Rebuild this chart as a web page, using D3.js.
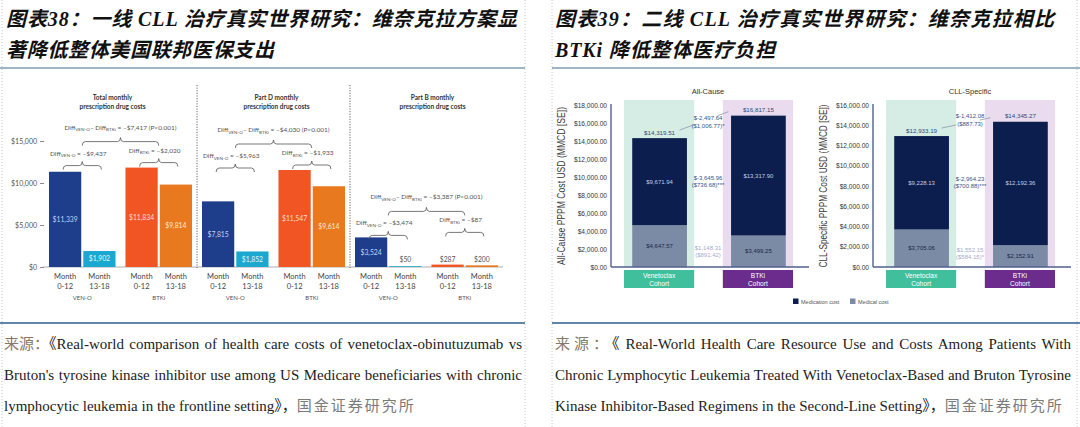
<!DOCTYPE html>
<html lang="zh">
<head>
<meta charset="utf-8">
<title>CLL real-world cost charts</title>
<script src="https://cdn.jsdelivr.net/npm/d3@7/dist/d3.min.js"></script>
<style>
  body { margin: 0; background: #fff; }
  svg { display: block; }
</style>
</head>
<body>
<div id="viz"></div>
<script>
// ---- figure 38: monthly Medicare drug costs, frontline CLL ----
var panelTitles = [["Total monthly", "prescription drug costs"], ["Part D monthly", "prescription drug costs"], ["Part B monthly", "prescription drug costs"]];
var cohorts = ["VEN-O", "BTKi"];
var periods = [["Month", "0-12"], ["Month", "13-18"]];
var venoCosts = [[11339, 1902], [7815, 1852], [3524, 50]];
var btkiCosts = [[11834, 9814], [11547, 9614], [287, 200]];
var venoDiffs = ["–$9,437", "–$5,963", "–$3,474"];
var btkiDiffs = ["–$2,020", "–$1,933", "–$87"];
var netDiffs = ["–$7,417", "–$4,030", "–$3,387"];
var costTicks = [0, 5000, 10000, 15000];

// ---- figure 39: PPPM costs, second-line CLL ----
var costTypes = ["All-Cause", "CLL-Specific"];
var cohortNames = [["Venetoclax", "Cohort"], ["BTKi", "Cohort"]];
var medicalCosts = [[4647.57, 3499.25], [3705.06, 2152.91]];
var medicationCosts = [[9671.94, 13317.90], [9228.13, 12192.36]];
var totalCosts = [[14319.51, 16817.15], [12933.19, 14345.27]];
var totalDiffs = [["$-2,497.64", "($1,006.77)*"], ["$-1,412.08", "($887.73)"]];
var medicationDiffs = [["$-3,645.96", "($736.68)***"], ["$-2,964.23", "($700.88)***"]];
var medicalDiffs = [["$1,148.31", "($891.42)"], ["$1,552.15", "($584.15)*"]];
var pppmMax = [18000, 16000];
var legendItems = ["Medication cost", "Medical cost"];

var W = 1080, H = 427;
var serif = "'Liberation Serif', 'Noto Sans CJK SC', serif";

var svg = d3.select("#viz").append("svg")
  .attr("width", W).attr("height", H)
  .style("background", "#fff");

// page frame: dotted column borders and the blue rules
[2, 525, 552, 1077].forEach(function(x) {
  svg.append("line").attr("x1", x).attr("x2", x).attr("y1", 0).attr("y2", H)
    .attr("stroke", "#c6c6c6").attr("stroke-dasharray", "1,2");
});
[[0, 525], [552, 1080]].forEach(function(s) {
  svg.append("line").attr("x1", s[0]).attr("x2", s[1]).attr("y1", 68).attr("y2", 68)
    .attr("stroke", "#7d9db4").attr("stroke-width", 1.6);
  svg.append("line").attr("x1", s[0]).attr("x2", s[1]).attr("y1", 323).attr("y2", 323)
    .attr("stroke", "#2d5d8b").attr("stroke-width", 1.4);
});

// titles
function title(x, y, str, width) {
  var t = svg.append("text").attr("x", x).attr("y", y)
    .attr("font-family", serif).attr("font-size", 20)
    .attr("font-weight", 700).attr("font-style", "italic")
    .attr("fill", "#111").text(str);
  var w = t.node().getComputedTextLength();
  t.style("letter-spacing", ((width - w) / (str.length - 1)) + "px");
}
title(6, 26, "图表38：一线 CLL 治疗真实世界研究：维奈克拉方案显", 511);
title(6, 57, "著降低整体美国联邦医保支出", 268);
title(555, 26, "图表39：二线 CLL 治疗真实世界研究：维奈克拉相比", 499);
title(555, 57, "BTKi 降低整体医疗负担", 220);

// source captions
function caption(x, y, parts, width) {
  var t = svg.append("text").attr("x", x).attr("y", y)
    .attr("font-family", serif).attr("font-size", 15).attr("fill", "#222");
  parts.forEach(function(p) {
    var s = t.append("tspan").attr("fill", p[1]).text(p[0]);
    if (p[2]) s.style("letter-spacing", p[2] + "px");
  });
  if (width) {
    var w = t.node().getComputedTextLength();
    var gaps = (t.text().match(/ /g) || []).length;
    t.style("word-spacing", ((width - w) / gaps) + "px");
  }
}
caption(4, 349, [["来源：", "#86786a"], ["《Real-world comparison of health care costs of venetoclax-obinutuzumab vs", "#222"]], 518);
caption(4, 380, [["Bruton's tyrosine kinase inhibitor use among US Medicare beneficiaries with chronic", "#222"]], 518);
caption(4, 411, [["lymphocytic leukemia in the frontline setting》，", "#222"], ["国金证券研究所", "#7a7a7a", 2]]);
caption(555, 349, [["来源：", "#86786a", 4], ["《 Real-World Health Care Resource Use and Costs Among Patients With", "#222"]], 516);
caption(555, 380, [["Chronic Lymphocytic Leukemia Treated With Venetoclax-Based and Bruton Tyrosine", "#222"]], 516);
caption(555, 411, [["Kinase Inhibitor-Based Regimens in the Second-Line Setting》，", "#222"], ["国金证券研究所", "#7a7a7a", 2]]);

// ================= figure 38 =================
var fig38 = svg.append("g").attr("font-family", "Lato, 'Open Sans', sans-serif");

var yCost = d3.scaleLinear().domain([0, 15000]).range([267, 141]);
var panelX = d3.scaleBand().domain(d3.range(panelTitles.length)).range([49, 498]).paddingInner(0.0654);
var cohortX = d3.scaleBand().domain(cohorts).range([0, panelX.bandwidth()]).paddingInner(0.13);
var periodX = d3.scaleBand().domain([0, 1]).range([0, cohortX.bandwidth()]).paddingInner(0.06);
var barFill = { "VEN-O": ["#1e3d8a", "#1ba8d0"], "BTKi": ["#f05523", "#e8791f"] };
var insideFill = { "VEN-O": ["#c3d2f2", "#e6f6fb"], "BTKi": ["#fddccd", "#fde9d3"] };

fig38.append("g").attr("transform", "translate(44,0)")
  .call(d3.axisLeft(yCost).tickValues(costTicks).tickSize(4).tickPadding(3)
    .tickFormat(function(d) { return "$" + d3.format(",")(d); }))
  .attr("font-family", null).attr("font-size", 7)
  .call(function(g) { g.select(".domain").remove(); })
  .call(function(g) { g.selectAll(".tick line").attr("stroke", "#8a8a8a"); })
  .call(function(g) { g.selectAll(".tick text").attr("fill", "#555"); });

fig38.append("line").attr("x1", 43).attr("x2", 503)
  .attr("y1", yCost(0)).attr("y2", yCost(0))
  .attr("stroke", "#9a9a9a").attr("stroke-width", 0.8);

// dotted separators between panels
d3.range(1, panelTitles.length).forEach(function(p) {
  fig38.append("line").attr("x1", panelX(p) - 5).attr("x2", panelX(p) - 5)
    .attr("y1", 85).attr("y2", 268)
    .attr("stroke", "#666").attr("stroke-dasharray", "1.2,1.4");
});

function bracket(g, x1, x2, y) {
  var c = (x1 + x2) / 2;
  g.append("path")
    .attr("d", "M" + x1 + "," + (y + 4) + "Q" + x1 + "," + y + " " + (x1 + 3) + "," + y +
      "L" + (c - 3) + "," + y + "Q" + c + "," + y + " " + c + "," + (y - 4) +
      "Q" + c + "," + y + " " + (c + 3) + "," + y +
      "L" + (x2 - 3) + "," + y + "Q" + x2 + "," + y + " " + x2 + "," + (y + 4))
    .attr("fill", "none").attr("stroke", "#555").attr("stroke-width", 0.8);
}

// pieces: [text, isSubscript]
function diffLabel(g, x, y, pieces) {
  var t = g.append("text").attr("x", x).attr("y", y)
    .attr("text-anchor", "middle").attr("font-size", 6.5).attr("fill", "#555");
  var shifted = false;
  pieces.forEach(function(pc) {
    var s = t.append("tspan").text(pc[0]);
    if (pc[1]) { s.attr("font-size", 4.6).attr("dy", 1.8); shifted = true; }
    else if (shifted) { s.attr("dy", -1.8); shifted = false; }
  });
}

panelTitles.forEach(function(tl, p) {
  var g = fig38.append("g").attr("transform", "translate(" + panelX(p) + ",0)");
  var values = [venoCosts[p], btkiCosts[p]];
  var bw = periodX.bandwidth();
  var titleShift = [-8, 3, 6][p];

  tl.forEach(function(line, li) {
    g.append("text").attr("x", panelX.bandwidth() / 2 + titleShift).attr("y", 100 + li * 8.5)
      .attr("text-anchor", "middle").attr("font-size", 6.5).attr("font-weight", 700)
      .attr("fill", "#333").text(line);
  });

  var topMax = yCost(d3.max(values, function(v) { return d3.max(v); }));
  var centers = [];
  var bracketYs = [];

  cohorts.forEach(function(c, ci) {
    values[ci].forEach(function(v, k) {
      var x = cohortX(c) + periodX(k);
      var top = yCost(v);
      var h = Math.max(yCost(0) - top, 0.8);
      g.append("rect").attr("x", x).attr("y", yCost(0) - h)
        .attr("width", bw).attr("height", h).attr("fill", barFill[c][k]);
      var inside = h > 12;
      g.append("text").attr("x", x + bw / 2)
        .attr("y", inside ? (top + yCost(0)) / 2 + 2.4 : Math.min(top, yCost(0) - 2) - 3)
        .attr("text-anchor", "middle").attr("font-size", 6.8)
        .attr("fill", inside ? insideFill[c][k] : "#555")
        .text("$" + d3.format(",")(v));
      periods[k].forEach(function(line, li) {
        g.append("text").attr("x", x + bw / 2).attr("y", 279 + li * 10)
          .attr("text-anchor", "middle").attr("font-size", 7.5).attr("fill", "#444").text(line);
      });
    });
    g.append("text").attr("x", cohortX(c) + cohortX.bandwidth() / 2).attr("y", 299.5)
      .attr("text-anchor", "middle").attr("font-size", 6).attr("fill", "#555").text(c);

    var x1 = cohortX(c) + periodX(0) + bw / 2 - 2;
    var x2 = cohortX(c) + periodX(1) + bw / 2 + 2;
    var by = topMax - (ci === 0 ? 2 : 5);
    bracket(g, x1, x2, by);
    centers.push((x1 + x2) / 2);
    bracketYs.push(by);
    diffLabel(g, (x1 + x2) / 2 - 4, by - 10,
      [["Diff", false], [c, true], [" = " + (ci === 0 ? venoDiffs[p] : btkiDiffs[p]), false]]);
  });

  var ty = d3.min(bracketYs) - 21;
  bracket(g, centers[0], centers[1], ty);
  diffLabel(g, (centers[0] + centers[1]) / 2, ty - 12,
    [["Diff", false], ["VEN-O", true], ["– Diff", false], ["BTKi", true],
     [" = " + netDiffs[p] + " (P<0.001)", false]]);
});

// ================= figure 39 =================
var fig39 = svg.append("g").attr("font-family", "'Liberation Sans', Arial, sans-serif");
var chartLeft = [611, 873];
var bgFill = ["#d5ede4", "#eadbee"];
var boxFill = ["#3fbf9c", "#6b2c8d"];
var segFill = { medication: "#0c1e4e", medical: "#7b8ba6" };

costTypes.forEach(function(ct, i) {
  var ax = chartLeft[i];
  var y = d3.scaleLinear().domain([0, pppmMax[i]]).range([267, 105]);
  var x = d3.scaleBand().domain([0, 1]).range([ax + 13, ax + 182]).paddingInner(0.29);
  var g = fig39.append("g");
  var mid = ax + 97;

  g.append("text").attr("x", mid).attr("y", 94).attr("text-anchor", "middle")
    .attr("font-size", 7.5).attr("fill", "#333").text(ct);

  cohortNames.forEach(function(cn, k) {
    g.append("rect").attr("x", x(k)).attr("y", y.range()[1] - 5)
      .attr("width", x.bandwidth()).attr("height", y(0) - y.range()[1] + 5)
      .attr("fill", bgFill[k]);
  });

  // y axis
  g.append("g").attr("transform", "translate(" + ax + ",0)")
    .call(d3.axisLeft(y).tickValues(d3.range(0, pppmMax[i] + 1, 2000)).tickSize(0).tickPadding(4)
      .tickFormat(function(d) { return "$" + d3.format(",.2f")(d); }))
    .attr("font-family", null).attr("font-size", 6.6)
    .call(function(a) { a.select(".domain").remove(); })
    .call(function(a) { a.selectAll(".tick text").attr("fill", "#333"); });

  g.append("text")
    .attr("transform", "translate(" + (ax - 46) + "," + 186 + ") rotate(-90)")
    .attr("text-anchor", "middle").attr("font-size", 10).attr("fill", "#3a3a3a")
    .attr("textLength", i === 0 ? 158 : 163).attr("lengthAdjust", "spacingAndGlyphs")
    .text(ct + " PPPM Cost USD (MMCD [SE])");

  // stacked bars
  var barW = x.bandwidth() * 0.78;
  var cx = [];
  cohortNames.forEach(function(cn, k) {
    var bx = x(k) + (x.bandwidth() - barW) / 2 + 0.5;
    var c = bx + barW / 2;
    cx.push(c);
    var med = medicalCosts[i][k], drug = medicationCosts[i][k], tot = totalCosts[i][k];
    g.append("rect").attr("x", bx).attr("y", y(med)).attr("width", barW)
      .attr("height", y(0) - y(med)).attr("fill", segFill.medical);
    g.append("rect").attr("x", bx).attr("y", y(med + drug)).attr("width", barW)
      .attr("height", y(med) - y(med + drug)).attr("fill", segFill.medication);

    g.append("text").attr("x", c).attr("y", (y(med) + y(med + drug)) / 2 + 2)
      .attr("text-anchor", "middle").attr("font-size", 6).attr("fill", "#c5cde0")
      .text("$" + d3.format(",.2f")(drug));
    g.append("text").attr("x", c).attr("y", (y(0) + y(med)) / 2 + 2)
      .attr("text-anchor", "middle").attr("font-size", 6).attr("fill", "#1a2747")
      .text("$" + d3.format(",.2f")(med));
    g.append("text").attr("x", c).attr("y", y(tot) - 3.5)
      .attr("text-anchor", "middle").attr("font-size", 6.2).attr("fill", "#2e4b7a")
      .text("$" + d3.format(",.2f")(tot));

    // cohort boxes under the axis
    g.append("rect").attr("x", x(k)).attr("y", 270).attr("width", x.bandwidth()).attr("height", 18)
      .attr("fill", boxFill[k]);
    cn.forEach(function(line, li) {
      g.append("text").attr("x", x(k) + x.bandwidth() / 2).attr("y", 278 + li * 8)
        .attr("text-anchor", "middle").attr("font-size", 6.6).attr("fill", "#fff").text(line);
    });
  });

  // axis lines
  g.append("line").attr("x1", ax).attr("x2", ax).attr("y1", y.range()[1] - 1).attr("y2", y(0))
    .attr("stroke", "#50608d").attr("stroke-width", 1.4);
  g.append("line").attr("x1", ax).attr("x2", ax + 198).attr("y1", y(0)).attr("y2", y(0))
    .attr("stroke", "#50608d").attr("stroke-width", 1.4);

  // connector between the total labels, broken around the difference text
  var p0 = [cx[0] + 20, y(totalCosts[i][0]) - 8];
  var p1 = [cx[1] - 30, y(totalCosts[i][1]) - 4];
  [[0, 0.3], [0.78, 1]].forEach(function(t) {
    g.append("line")
      .attr("x1", p0[0] + (p1[0] - p0[0]) * t[0]).attr("y1", p0[1] + (p1[1] - p0[1]) * t[0])
      .attr("x2", p0[0] + (p1[0] - p0[0]) * t[1]).attr("y2", p0[1] + (p1[1] - p0[1]) * t[1])
      .attr("stroke", "#8d98ae").attr("stroke-width", 0.8);
  });

  function twoLine(lines, yc, fill) {
    lines.forEach(function(line, li) {
      g.append("text").attr("x", mid).attr("y", yc + li * 7.5 + 2)
        .attr("text-anchor", "middle").attr("font-size", 6).attr("fill", fill).text(line);
    });
  }
  var vMed = medicalCosts[i][0], vTot = totalCosts[i][0];
  twoLine(totalDiffs[i], y(vTot) - 20, "#34558a");
  twoLine(medicationDiffs[i], (y(vMed) + y(vTot)) / 2 - 4, "#34558a");
  twoLine(medicalDiffs[i], (y(0) + y(vMed)) / 2 + 1.5, "#a3acd0");
});

// legend
var legendX = [793, 850];
legendItems.forEach(function(name, k) {
  fig39.append("rect").attr("x", legendX[k]).attr("y", 298.5).attr("width", 5.5).attr("height", 5.5)
    .attr("fill", k === 0 ? segFill.medication : segFill.medical);
  fig39.append("text").attr("x", legendX[k] + 8).attr("y", 303.5)
    .attr("font-size", 5.5).attr("fill", "#555").text(name);
});
</script>
</body>
</html>
